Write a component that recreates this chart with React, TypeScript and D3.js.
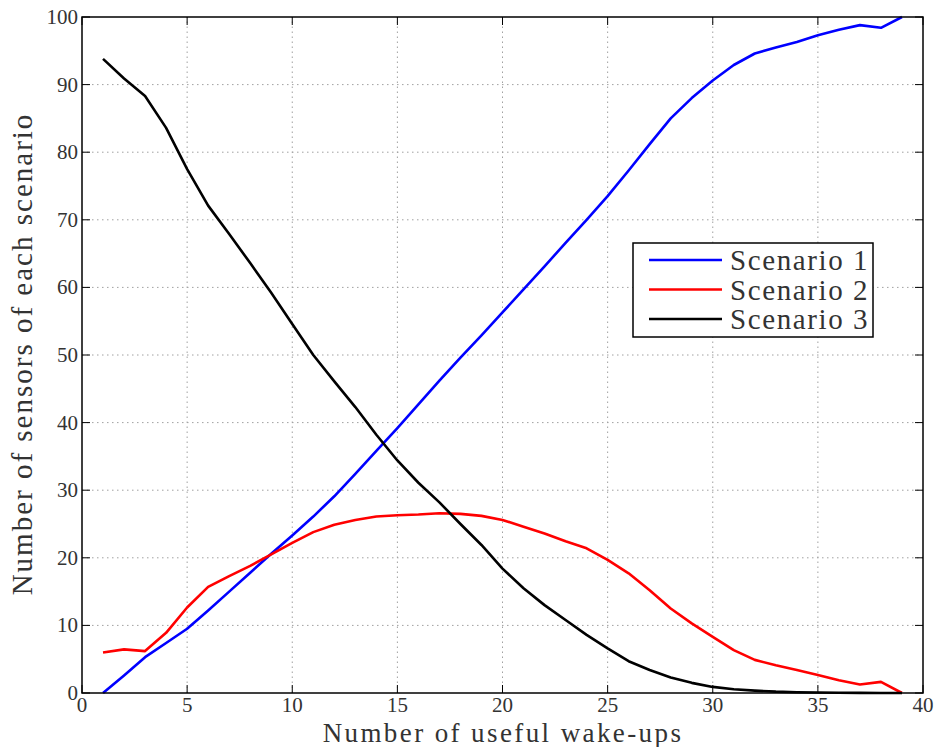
import React from "react";
import * as d3 from "d3";

// wake-up counts on the x axis
const wakeUps = d3.range(1, 40);

const scenario1 = [
  0, 2.6, 5.3, 7.4, 9.5, 12.2, 15, 17.8, 20.6, 23.3, 26.1, 29.1, 32.4, 35.8,
  39.2, 42.7, 46.2, 49.6, 52.9, 56.3, 59.7, 63.1, 66.6, 70, 73.5, 77.3, 81.2,
  85, 88, 90.6, 92.9, 94.6, 95.5, 96.3, 97.3, 98.1, 98.8, 98.4, 100,
];
const scenario2 = [
  6.0, 6.45, 6.2, 8.9, 12.65, 15.7, 17.3, 18.8, 20.5, 22.2, 23.8, 24.9, 25.6,
  26.1, 26.3, 26.4, 26.6, 26.5, 26.2, 25.6, 24.6, 23.6, 22.45, 21.4, 19.7,
  17.7, 15.2, 12.5, 10.3, 8.3, 6.35, 4.9, 4.1, 3.4, 2.65, 1.9, 1.25, 1.65, 0,
];
const scenario3 = [
  93.8, 90.9, 88.3, 83.6, 77.5, 72.1, 67.9, 63.6, 59.2, 54.6, 50, 46.1, 42.3,
  38.2, 34.4, 31.1, 28.2, 25.0, 21.9, 18.4, 15.5, 13.0, 10.8, 8.6, 6.6, 4.7,
  3.4, 2.3, 1.5, 0.9, 0.55, 0.35, 0.2, 0.12, 0.07, 0.04, 0.02, 0.01, 0,
];

const seriesNames = ["Scenario 1", "Scenario 2", "Scenario 3"];
const seriesColors = ["#0000ff", "#ff0000", "#000000"];
const xTicks = [0, 5, 10, 15, 20, 25, 30, 35, 40];
const yTicks = [0, 10, 20, 30, 40, 50, 60, 70, 80, 90, 100];

const W = 939;
const H = 747;
const margin = { top: 17, right: 16, bottom: 54, left: 82 };
const FONT = "'Liberation Serif', 'DejaVu Serif', serif";

export default function App() {
  const x = d3
    .scaleLinear()
    .domain([0, 40])
    .range([margin.left, W - margin.right]);
  const y = d3
    .scaleLinear()
    .domain([0, 100])
    .range([H - margin.bottom, margin.top]);

  const line = d3
    .line<number>()
    .x((_, i) => x(wakeUps[i]))
    .y((d) => y(d));

  const allSeries = [scenario1, scenario2, scenario3];
  const [x0, x1] = x.range();
  const [y0, y1] = y.range();
  const tickLen = 8;

  // legend box
  const lg = { x: 633, y: 243, w: 240, h: 94 };

  return (
    <svg
      width={W}
      height={H}
      style={{ position: "fixed", left: 0, top: 0, background: "#fff" }}
      fontFamily={FONT}
    >
      <rect width={W} height={H} fill="#fff" />

      {/* grid */}
      <g stroke="#a0a0a0" strokeWidth={1} strokeDasharray="1.5,3.5">
        {xTicks.slice(1, -1).map((t) => (
          <line key={"gx" + t} x1={x(t)} x2={x(t)} y1={y0} y2={y1} />
        ))}
        {yTicks.slice(1, -1).map((t) => (
          <line key={"gy" + t} x1={x0} x2={x1} y1={y(t)} y2={y(t)} />
        ))}
      </g>

      {/* inward ticks on all sides */}
      <g stroke="#000" strokeWidth={1}>
        {xTicks.map((t) => (
          <g key={"tx" + t}>
            <line x1={x(t)} x2={x(t)} y1={y0} y2={y0 - tickLen} />
            <line x1={x(t)} x2={x(t)} y1={y1} y2={y1 + tickLen} />
          </g>
        ))}
        {yTicks.map((t) => (
          <g key={"ty" + t}>
            <line x1={x0} x2={x0 + tickLen} y1={y(t)} y2={y(t)} />
            <line x1={x1} x2={x1 - tickLen} y1={y(t)} y2={y(t)} />
          </g>
        ))}
      </g>

      {/* series */}
      <g fill="none" strokeWidth={2.6} strokeLinejoin="round">
        {allSeries.map((s, i) => (
          <path key={seriesNames[i]} d={line(s) || ""} stroke={seriesColors[i]} />
        ))}
      </g>

      {/* axes box */}
      <rect
        x={x0}
        y={y1}
        width={x1 - x0}
        height={y0 - y1}
        fill="none"
        stroke="#000"
        strokeWidth={1.5}
      />

      {/* tick labels */}
      <g fontSize={21} fill="#333">
        {xTicks.map((t) => (
          <text key={"lx" + t} x={x(t)} y={y0 + 19} textAnchor="middle">
            {t}
          </text>
        ))}
        {yTicks.map((t) => (
          <text key={"ly" + t} x={x0 - 4} y={y(t) + 7} textAnchor="end">
            {t}
          </text>
        ))}
      </g>

      {/* axis titles */}
      <text
        x={503}
        y={742}
        textAnchor="middle"
        fontSize={27}
        letterSpacing={2.4}
        fill="#333"
      >
        Number of useful wake-ups
      </text>
      <text
        transform={`translate(32, ${354}) rotate(-90)`}
        textAnchor="middle"
        fontSize={29}
        letterSpacing={2}
        fill="#333"
      >
        Number of sensors of each scenario
      </text>

      {/* legend */}
      <rect
        x={lg.x}
        y={lg.y}
        width={lg.w}
        height={lg.h}
        fill="#fff"
        stroke="#000"
        strokeWidth={1.5}
      />
      {seriesNames.map((name, i) => (
        <g key={"lg" + name}>
          <line
            x1={lg.x + 16}
            x2={lg.x + 89}
            y1={lg.y + 17 + i * 29.5}
            y2={lg.y + 17 + i * 29.5}
            stroke={seriesColors[i]}
            strokeWidth={2.6}
          />
          <text
            x={lg.x + 97}
            y={lg.y + 27 + i * 29.5}
            fontSize={29}
            letterSpacing={1.6}
            fill="#333"
          >
            {name}
          </text>
        </g>
      ))}
    </svg>
  );
}
